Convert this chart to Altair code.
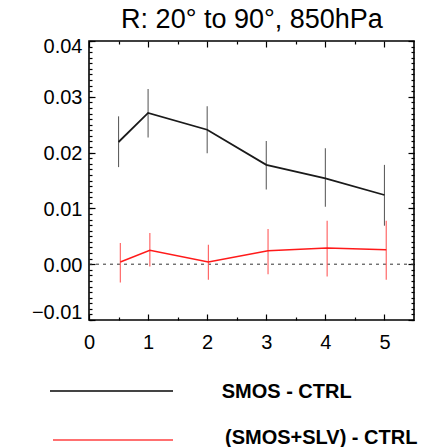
import altair as alt
import pandas as pd

title_text = "R: 20° to 90°, 850hPa"
series_names = ["SMOS - CTRL", "(SMOS+SLV) - CTRL"]

# SMOS - CTRL
x_smos = [0.5, 1, 2, 3, 4, 5]
y_smos = [0.0219, 0.0271, 0.0241, 0.0178, 0.0154, 0.0124]
lo_smos = [0.0174, 0.0227, 0.0199, 0.0134, 0.0103, 0.0069]
hi_smos = [0.0265, 0.0314, 0.0283, 0.0221, 0.0208, 0.0178]

# (SMOS+SLV) - CTRL
x_slv = [0.53, 1.03, 2.02, 3.03, 4.03, 5.03]
y_slv = [0.0004, 0.0025, 0.0004, 0.0024, 0.0029, 0.0026]
lo_slv = [-0.0033, -0.0004, -0.0028, -0.0018, -0.0022, -0.0028]
hi_slv = [0.0038, 0.0056, 0.0035, 0.0063, 0.0078, 0.0078]

x_major_ticks = [0, 1, 2, 3, 4, 5]
x_minor_ticks = [0.5, 1.5, 2.5, 3.5, 4.5]
y_major_ticks = [-0.01, 0.0, 0.01, 0.02, 0.03, 0.04]
y_minor_ticks = [round(-0.01 + 0.001 * i, 3) for i in range(51)]

line_colors = ["#1a1a1a", "#ff1a1a"]
legend_colors = ["#444444", "#ff4040"]
bar_colors = ["#606060", "#ff5a5a"]

FONT = "Liberation Sans"

df_smos = pd.DataFrame({"x": x_smos, "y": y_smos, "lo": lo_smos, "hi": hi_smos})
df_slv = pd.DataFrame({"x": x_slv, "y": y_slv, "lo": lo_slv, "hi": hi_slv})

xs = alt.Scale(domain=[0, 5.5], nice=False, zero=False)
ys = alt.Scale(domain=[-0.01, 0.04], nice=False, zero=False)


def xaxis(orient, values, size, labels):
    return alt.Axis(orient=orient, values=values, tickSize=size, offset=-size,
                    domain=False, grid=False, labels=labels, title=None,
                    tickColor="black", tickWidth=1.2, labelFont=FONT,
                    labelFontSize=20, labelPadding=12, format="d",
                    labelColor="black", labelFlush=False, labelOverlap=False)


def yaxis(orient, values, size, labels):
    return alt.Axis(orient=orient, values=values, tickSize=size, offset=-size,
                    domain=False, grid=False, labels=labels, title=None,
                    tickColor="black", tickWidth=1.2, labelFont=FONT,
                    labelFontSize=20, labelPadding=7, format=".2f",
                    labelColor="black", labelFlush=False, labelOverlap=False,
                    labelOffset={"condition": [
                        {"test": "datum.value >= 0.039", "value": 5},
                        {"test": "datum.value <= -0.009", "value": -8}],
                        "value": 1})


line_smos = alt.Chart(df_smos).mark_line(color=line_colors[0], strokeWidth=1.8).encode(
    x=alt.X("x:Q", scale=xs, axis=xaxis("bottom", x_major_ticks, 6, True)),
    y=alt.Y("y:Q", scale=ys, axis=yaxis("left", y_major_ticks, 6, True)),
)
line_slv = alt.Chart(df_slv).mark_line(color=line_colors[1], strokeWidth=1.5).encode(
    x=alt.X("x:Q", scale=xs, axis=xaxis("bottom", x_minor_ticks, 3, False)),
    y=alt.Y("y:Q", scale=ys, axis=yaxis("left", y_minor_ticks, 3, False)),
)
err_smos = alt.Chart(df_smos).mark_rule(color=bar_colors[0], strokeWidth=1.1).encode(
    x=alt.X("x:Q", scale=xs, axis=xaxis("top", x_major_ticks, 6, False)),
    y=alt.Y("lo:Q", scale=ys, axis=yaxis("right", y_major_ticks, 6, False)),
    y2="hi:Q",
)
err_slv = alt.Chart(df_slv).mark_rule(color=bar_colors[1], strokeWidth=1.1).encode(
    x=alt.X("x:Q", scale=xs, axis=xaxis("top", x_minor_ticks, 3, False)),
    y=alt.Y("lo:Q", scale=ys, axis=yaxis("right", y_minor_ticks, 3, False)),
    y2="hi:Q",
)
zero_line = alt.Chart(pd.DataFrame({"z": [0.0]})).mark_rule(
    color="#333333", strokeWidth=1, strokeDash=[3, 4]).encode(
    x=alt.XDatum(0, scale=xs, axis=None),
    x2=alt.X2Datum(5.5),
    y=alt.Y("z:Q", scale=ys, axis=None),
)

title_layer = alt.Chart(pd.DataFrame({"t": [title_text]})).mark_text(
    font=FONT, fontSize=27, align="center", baseline="alphabetic", color="black"
).encode(text="t:N", x=alt.value(163), y=alt.value(-13))

legend_layers = []
legend_geom = [(-39, 84, 350, 132.7, 356.5, 2.0), (-36, 84, 399, 136, 402.5, 1.6)]
for i, (x1, x2, yl, xt, yt, sw) in enumerate(legend_geom):
    ldf = pd.DataFrame({"label": [series_names[i]]})
    legend_layers.append(
        alt.Chart(ldf).mark_rule(color=legend_colors[i], strokeWidth=sw).encode(
            x=alt.value(x1), x2=alt.value(x2), y=alt.value(yl))
    )
    legend_layers.append(
        alt.Chart(ldf).mark_text(font=FONT, fontSize=20, fontWeight="bold",
                                 align="left", baseline="alphabetic",
                                 color="black").encode(
            text="label:N", x=alt.value(xt), y=alt.value(yt))
    )

chart = alt.layer(zero_line, err_smos, err_slv, line_smos, line_slv, title_layer,
                  *legend_layers).resolve_axis(
    x="independent", y="independent"
).properties(
    width=325,
    height=279,
    autosize=alt.AutoSizeParams(type="none"),
    padding={"left": 81, "top": 33, "right": 18, "bottom": 127},
    background="white",
).configure_view(
    stroke="black", strokeWidth=1.6
)

chart.save("out.html", embed_options={"renderer": "svg", "actions": False})
